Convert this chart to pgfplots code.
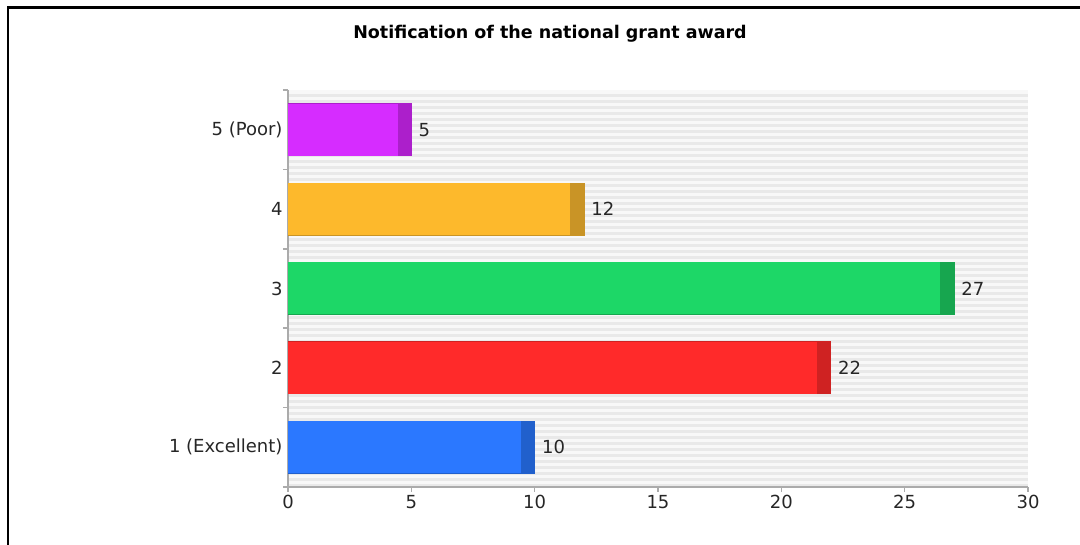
\documentclass[border=0pt]{standalone}
\usepackage{pgfplots}
\pgfplotsset{compat=1.18}
\usepackage{fontspec}
\setmainfont{DejaVu Sans}
\definecolor{pmain}{HTML}{D62CFF}
\definecolor{pdark}{HTML}{AC1FCB}
\definecolor{omain}{HTML}{FDB92C}
\definecolor{odark}{HTML}{C99426}
\definecolor{gmain}{HTML}{1DD767}
\definecolor{gdark}{HTML}{17A64F}
\definecolor{rmain}{HTML}{FF2A2A}
\definecolor{rdark}{HTML}{CF2222}
\definecolor{bmain}{HTML}{2B78FF}
\definecolor{bdark}{HTML}{2160CC}
\definecolor{axgray}{HTML}{ABABAB}
\definecolor{stripe}{HTML}{E9E9E9}
\definecolor{stripebg}{HTML}{F8F8F8}
\begin{document}
\begin{tikzpicture}[x=1pt,y=1pt]
\path[use as bounding box] (0,0) rectangle (1080,545);
\draw[line width=2.4pt] (7.8,0) -- (7.8,537.5) -- (1080,537.5);
\node[font=\bfseries\fontsize{17.5}{20}\selectfont] at (550,511) {Notification of the national grant award};
\fill[stripebg] (288,58) rectangle (1028,455);
\foreach \i in {0,...,65} \fill[stripe] (288,{58+\i*6}) rectangle (1028,{58+\i*6+3});
\begin{axis}[
  at={(288pt,58pt)}, anchor=south west,
  scale only axis, width=740pt, height=397pt,
  xmin=0, xmax=30, ymin=0.5, ymax=5.5,
  axis lines*=left,
  axis line style={axgray, line width=2.2pt},
  tick align=outside,
  tick style={axgray, line width=1.5pt},
  major tick length=5pt,
  xtick={0,5,...,30},
  ytick={0.5,1.5,...,5.5},
  yticklabels={},
  extra y ticks={1,2,3,4,5},
  extra y tick labels={1 (Excellent),2,3,4,5 (Poor)},
  extra y tick style={major tick length=0pt, yticklabel style={xshift=-2pt}},
  ticklabel style={font=\fontsize{18}{20}\selectfont, text=black!85},
  /pgf/number format/assume math mode=true,
  axis background/.style={fill=none},
  clip=false,
  every axis plot/.append style={xbar, bar width=52pt, bar shift=0pt},
]
\addplot[fill=bdark, draw=bdark, line width=0.8pt, nodes near coords, every node near coord/.append style={anchor=west, inner sep=0pt, xshift=7pt, font=\fontsize{18}{20}\selectfont, text=black!85}] coordinates {(10,1)};
\addplot[fill=bmain, draw=none] coordinates {(9.45,1)};
\addplot[fill=rdark, draw=rdark, line width=0.8pt, nodes near coords, every node near coord/.append style={anchor=west, inner sep=0pt, xshift=7pt, font=\fontsize{18}{20}\selectfont, text=black!85}] coordinates {(22,2)};
\addplot[fill=rmain, draw=none] coordinates {(21.45,2)};
\addplot[fill=gdark, draw=gdark, line width=0.8pt, nodes near coords, every node near coord/.append style={anchor=west, inner sep=0pt, xshift=7pt, font=\fontsize{18}{20}\selectfont, text=black!85}] coordinates {(27,3)};
\addplot[fill=gmain, draw=none] coordinates {(26.45,3)};
\addplot[fill=odark, draw=odark, line width=0.8pt, nodes near coords, every node near coord/.append style={anchor=west, inner sep=0pt, xshift=7pt, font=\fontsize{18}{20}\selectfont, text=black!85}] coordinates {(12,4)};
\addplot[fill=omain, draw=none] coordinates {(11.45,4)};
\addplot[fill=pdark, draw=pdark, line width=0.8pt, nodes near coords, every node near coord/.append style={anchor=west, inner sep=0pt, xshift=7pt, font=\fontsize{18}{20}\selectfont, text=black!85}] coordinates {(5,5)};
\addplot[fill=pmain, draw=none] coordinates {(4.45,5)};
\end{axis}
\end{tikzpicture}
\end{document}
